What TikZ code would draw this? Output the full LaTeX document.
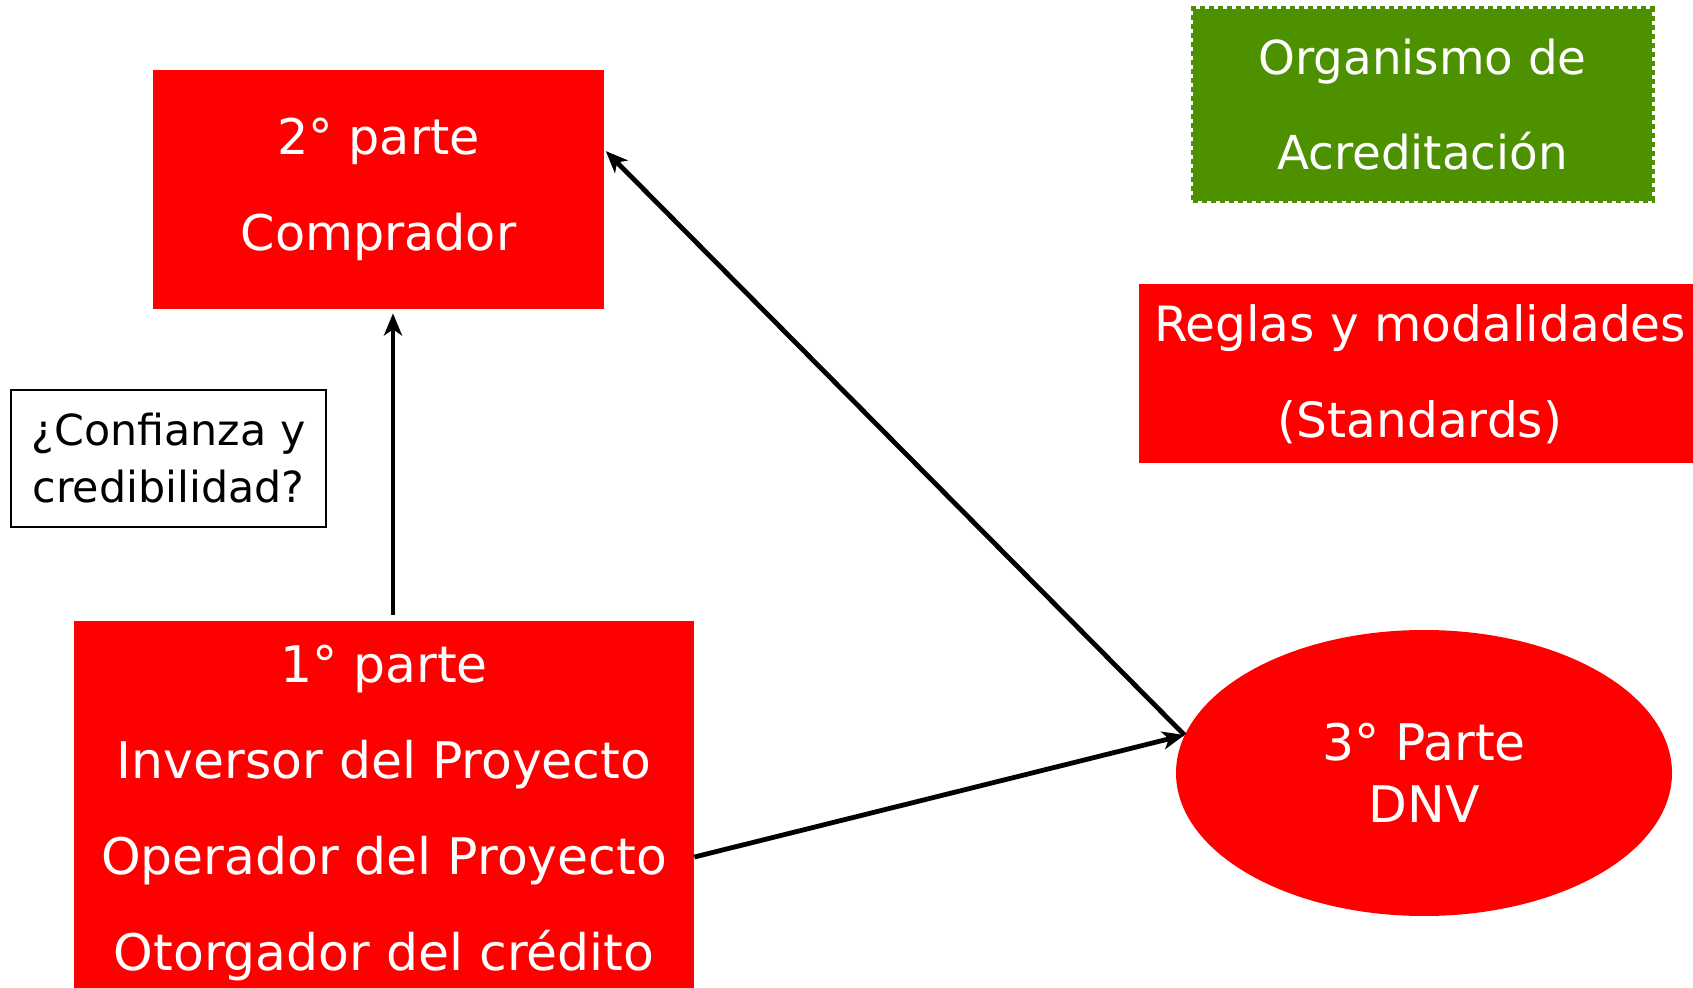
\documentclass[tikz,border=0pt]{standalone}
\usepackage{fontspec}
\setmainfont{DejaVu Sans}
\usetikzlibrary{arrows.meta,shapes.geometric}
\definecolor{boxred}{RGB}{255,0,0}
\definecolor{acgreen}{RGB}{78,145,0}
\begin{document}
\begin{tikzpicture}[x=0.5pt,y=-0.5pt,
	redbox/.style={fill=boxred,text=white,inner sep=0pt,align=center},
	conn/.style={line width=2.4pt,-{Stealth[length=11pt,width=9pt,inset=3pt]}}]
	\clip (0,0) rectangle (1693,988);
	% the parties
	\node[redbox,minimum width=225.5pt,minimum height=119.5pt,font=\fontsize{24.6}{48}\selectfont] (comp) at (378.5,189.5) {2° parte\\Comprador};
	\node[redbox,minimum width=310pt,minimum height=192pt,font=\fontsize{25.2}{48}\selectfont] (ins) at (384,813) {1° parte\\Inversor del Proyecto\\Operador del Proyecto\\Otorgador del crédito};
	\node[redbox,ellipse,minimum width=248pt,minimum height=143pt,font=\fontsize{25.2}{30.8}\selectfont] (dnv) at (1424,773) {3° Parte\\DNV};
	% right column
	\node[fill=acgreen,draw=acgreen,dotted,line width=2.5pt,text=white,inner sep=0pt,align=center,minimum width=229.5pt,minimum height=96pt,font=\fontsize{23.4}{47.5}\selectfont] (acred) at (1422.5,105) {Organismo de\\Acreditación};
	\node[redbox,minimum width=281pt,minimum height=89.5pt,font=\fontsize{24.3}{48}\selectfont] (std) at (1420,374) {Reglas y modalidades\\(Standards)};
	\node[draw,line width=1pt,inner sep=0pt,align=center,minimum width=157.5pt,minimum height=68.5pt,font=\fontsize{21.4}{28.5}\selectfont] (conf) at (168.5,458.5) {¿Confianza y\\credibilidad?};
	% arrows
	\coordinate (up) at (393,615);
	\draw[conn,shorten >=2pt] (up) -- (up |- comp.south);
	\draw[conn,shorten >=1pt] (dnv.171) -- (comp.10);
	\draw[conn] ([yshift=-22pt]ins.east) -- (dnv.171);
\end{tikzpicture}
\end{document}
